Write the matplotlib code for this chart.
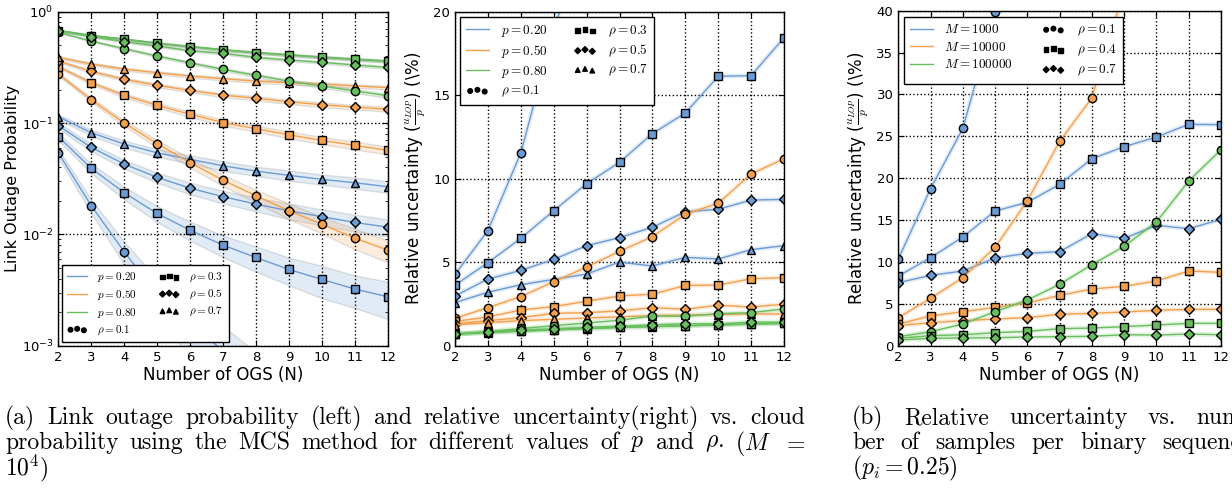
import numpy as np
import matplotlib
matplotlib.use('Agg')
import matplotlib.pyplot as plt
from matplotlib.lines import Line2D

# number of ground stations
N = [2, 3, 4, 5, 6, 7, 8, 9, 10, 11, 12]

# link outage probability, M = 1e4 (p = cloud probability, rho = correlation)
lop_p20_r01 = [0.054, 0.0181, 0.00698, 0.0029, 0.0016, 0.0009, 0.00045, 0.00025, 0.00014, 0.00008, 0.00005]
lop_p20_r03 = [0.0753, 0.0392, 0.0237, 0.0154, 0.0109, 0.0080, 0.0062, 0.00484, 0.00394, 0.00323, 0.00275]
lop_p20_r05 = [0.0946, 0.0605, 0.0428, 0.0325, 0.0260, 0.0218, 0.0187, 0.0163, 0.0144, 0.0128, 0.0116]
lop_p20_r07 = [0.114, 0.0818, 0.0648, 0.054, 0.0472, 0.0413, 0.037, 0.0339, 0.0312, 0.0291, 0.0268]
lop_p50_r01 = [0.275, 0.162, 0.100, 0.0653, 0.044, 0.0307, 0.0222, 0.0163, 0.0123, 0.00927, 0.00723]
lop_p50_r03 = [0.321, 0.230, 0.177, 0.144, 0.120, 0.101, 0.0889, 0.0785, 0.0698, 0.063, 0.0568]
lop_p50_r05 = [0.36, 0.291, 0.247, 0.218, 0.196, 0.178, 0.167, 0.155, 0.146, 0.139, 0.133]
lop_p50_r07 = [0.389, 0.339, 0.305, 0.283, 0.264, 0.25, 0.238, 0.23, 0.224, 0.215, 0.208]
lop_p80_r01 = [0.653, 0.545, 0.466, 0.4, 0.348, 0.303, 0.268, 0.238, 0.215, 0.194, 0.176]
lop_p80_r03 = [0.676, 0.61, 0.565, 0.52, 0.485, 0.453, 0.428, 0.408, 0.389, 0.373, 0.358]
lop_p80_r05 = [0.676, 0.597, 0.538, 0.492, 0.447, 0.423, 0.389, 0.368, 0.351, 0.332, 0.316]
lop_p80_r07 = [0.68, 0.612, 0.567, 0.522, 0.487, 0.455, 0.43, 0.41, 0.391, 0.375, 0.36]

# relative uncertainty of the LOP estimate (%)
rel_p20_r01 = [4.27, 6.89, 11.54, 18.9, 25, 33, 47, 63, 84, 110, 140]
rel_p20_r03 = [3.63, 4.97, 6.43, 8.08, 9.7, 10.98, 12.7, 13.93, 16.13, 16.17, 18.44]
rel_p20_r05 = [2.98, 3.99, 4.51, 5.17, 5.99, 6.47, 7.09, 8.02, 8.17, 8.72, 8.76]
rel_p20_r07 = [2.58, 3.2, 3.65, 3.97, 4.29, 5.01, 4.77, 5.29, 5.19, 5.75, 5.99]
rel_p50_r01 = [1.64, 2.28, 2.94, 3.83, 4.71, 5.65, 6.53, 7.87, 8.53, 10.28, 11.2]
rel_p50_r03 = [1.45, 1.72, 2.14, 2.34, 2.66, 2.98, 3.08, 3.61, 3.63, 4.01, 4.07]
rel_p50_r05 = [1.3, 1.5, 1.68, 1.94, 1.98, 2.08, 2.28, 2.18, 2.42, 2.32, 2.48]
rel_p50_r07 = [1.25, 1.38, 1.5, 1.58, 1.66, 1.73, 1.8, 1.84, 1.86, 1.9, 1.9]
rel_p80_r01 = [0.7, 0.84, 1.03, 1.2, 1.36, 1.52, 1.78, 1.76, 1.92, 1.98, 2.2]
rel_p80_r03 = [0.69, 0.8, 0.88, 0.96, 1.03, 1.1, 1.15, 1.2, 1.25, 1.3, 1.34]
rel_p80_r05 = [0.7, 0.82, 0.93, 1.0, 1.1, 1.17, 1.25, 1.32, 1.3, 1.42, 1.4]
rel_p80_r07 = [0.69, 0.79, 0.87, 0.95, 1.02, 1.09, 1.14, 1.19, 1.24, 1.29, 1.33]

# relative uncertainty (%) vs samples per binary sequence, p_i = 0.25
rel_m1k_r01 = [10.35, 18.75, 25.95, 39.8, 55, 70, 90, 110, 135, 160, 190]
rel_m1k_r04 = [8.32, 10.51, 12.98, 16.08, 17.12, 19.27, 22.33, 23.76, 24.92, 26.43, 26.39]
rel_m1k_r07 = [7.52, 8.4, 8.92, 10.47, 11.03, 11.23, 13.38, 12.82, 14.37, 13.97, 15.09]
rel_m10k_r01 = [3.35, 5.66, 8.12, 11.75, 17.3, 24.4, 29.6, 42.5, 55, 70, 90]
rel_m10k_r04 = [2.59, 3.55, 4.06, 4.58, 5.1, 6.01, 6.77, 7.09, 7.73, 8.92, 8.76]
rel_m10k_r07 = [2.39, 2.75, 2.99, 3.19, 3.35, 3.75, 3.87, 4.02, 4.22, 4.34, 4.34]
rel_m100k_r01 = [1.08, 1.67, 2.59, 4.06, 5.46, 7.33, 9.67, 11.87, 14.77, 19.67, 23.4]
rel_m100k_r04 = [0.88, 1.2, 1.31, 1.55, 1.71, 2.03, 2.11, 2.27, 2.47, 2.67, 2.67]
rel_m100k_r07 = [0.68, 0.88, 0.92, 0.96, 1.04, 1.08, 1.12, 1.31, 1.27, 1.39, 1.31]

p_labels = ['$p=0.20$', '$p=0.50$', '$p=0.80$']
rho_labels = [r'$\rho=0.1$', r'$\rho=0.3$', r'$\rho=0.5$', r'$\rho=0.7$']
m_labels = ['$M=1000$', '$M=10000$', '$M=100000$']
rho_labels_b = [r'$\rho=0.1$', r'$\rho=0.4$', r'$\rho=0.7$']

colors = ['#6a9bd4', '#f5a04c', '#66bf5c']
markers = ['o', 's', 'D', '^']
msizes = [6, 6, 5.2, 6]

lop = [[lop_p20_r01, lop_p20_r03, lop_p20_r05, lop_p20_r07],
       [lop_p50_r01, lop_p50_r03, lop_p50_r05, lop_p50_r07],
       [lop_p80_r07, lop_p80_r01, lop_p80_r03, lop_p80_r05]]
rel = [[rel_p20_r01, rel_p20_r03, rel_p20_r05, rel_p20_r07],
       [rel_p50_r01, rel_p50_r03, rel_p50_r05, rel_p50_r07],
       [rel_p80_r07, rel_p80_r01, rel_p80_r03, rel_p80_r05]]
mk_order = [[0, 1, 2, 3], [0, 1, 2, 3], [3, 0, 1, 2]]
relb = [[rel_m1k_r01, rel_m1k_r04, rel_m1k_r07],
        [rel_m10k_r01, rel_m10k_r04, rel_m10k_r07],
        [rel_m100k_r01, rel_m100k_r04, rel_m100k_r07]]

plt.rcParams.update({
    'font.family': 'DejaVu Sans',
    'mathtext.fontset': 'dejavusans',
    'xtick.direction': 'in', 'ytick.direction': 'in',
    'xtick.top': True, 'ytick.right': True,
    'xtick.minor.top': True, 'ytick.minor.right': True,
    'xtick.labelsize': 9.5, 'ytick.labelsize': 9.5,
    'xtick.major.size': 4, 'ytick.major.size': 4,
    'ytick.minor.size': 2,
    'axes.linewidth': 1.0,
    'legend.fancybox': False, 'legend.edgecolor': 'k',
    'legend.framealpha': 1, 'legend.shadow': False,
})

W, H = 1232, 500
fig = plt.figure(figsize=(W / 100, H / 100), dpi=100)


def px_axes(x0, x1, y0, y1):
    return fig.add_axes([x0 / W, 1 - y1 / H, (x1 - x0) / W, (y1 - y0) / H])


ax1 = px_axes(58.3, 387.7, 11.7, 345.7)
ax2 = px_axes(455, 784, 11.7, 345.7)
ax3 = px_axes(898.3, 1221, 10.7, 345.7)

Na = np.array(N)

# left: outage probability with 2-sigma band
for i, c in enumerate(colors):
    for j, k in enumerate(mk_order[i]):
        y = np.array(lop[i][j])
        r = np.array(rel[i][j]) / 100
        lo = np.clip(y * (1 - 2 * r), 1e-6, None)
        ax1.fill_between(Na, lo, y * (1 + 2 * r), facecolor=c, edgecolor='0.45',
                         alpha=0.2, lw=1)
        ax1.plot(Na, y, color=c, lw=1, marker=markers[k], ms=msizes[k],
                 mfc=c, mec='k', mew=1)
ax1.set_yscale('log')
ax1.set_ylim(1e-3, 1)
ax1.set_ylabel('Link Outage Probability', fontsize=11.5, labelpad=1)

# middle: relative uncertainty
for i, c in enumerate(colors):
    for j, k in enumerate(mk_order[i]):
        y = rel[i][j]
        ax2.plot(Na, y, color=c, lw=3.5, alpha=0.18, solid_capstyle='round')
        ax2.plot(Na, y, color=c, lw=1, marker=markers[k], ms=msizes[k],
                 mfc=c, mec='k', mew=1)
ax2.set_ylim(0, 20)
ax2.set_yticks([0, 5, 10, 15, 20])

# right: relative uncertainty vs M
mk_b = ['o', 's', 'D']
ms_b = [6, 6, 5.2]
for i, c in enumerate(colors):
    for j in range(3):
        y = relb[i][j]
        ax3.plot(Na, y, color=c, lw=3.5, alpha=0.18, solid_capstyle='round')
        ax3.plot(Na, y, color=c, lw=1, marker=mk_b[j], ms=ms_b[j],
                 mfc=c, mec='k', mew=1)
ax3.set_ylim(0, 40)
ax3.set_yticks(range(0, 41, 5))

ulabel = r'Relative uncertainty ($\frac{u_{LOP}}{p}$) (\%)'
for ax in (ax1, ax2, ax3):
    ax.set_xlim(2, 12)
    ax.set_xticks(N)
    ax.grid(True, color='k', ls=':', lw=1)
    ax.set_xlabel('Number of OGS (N)', fontsize=12, labelpad=2)
for ax in (ax2, ax3):
    lab = ax.set_ylabel(ulabel, fontsize=12, labelpad=4)
    lab.set_math_fontfamily('cm')


def legend_handles(ax, line_labels, mk, mk_labels):
    hs = [Line2D([], [], color=c, lw=1, label=l) for c, l in zip(colors, line_labels)]
    for m, l in zip(mk, mk_labels):
        hs.append(ax.scatter([], [], marker=m, c='k', s=11 if m != 'D' else 9, label=l))
    return hs


h1 = legend_handles(ax1, p_labels, markers, rho_labels)
leg1 = ax1.legend(handles=h1, loc='lower left', ncol=2, fontsize=8, scatterpoints=3,
                  borderaxespad=0.35, labelspacing=0.35, handlelength=1.8,
                  columnspacing=2.0, handletextpad=0.9, borderpad=0.45)
h2 = legend_handles(ax2, p_labels, markers, rho_labels)
leg2 = ax2.legend(handles=h2, loc='upper left', ncol=2, fontsize=9.5, scatterpoints=3,
                  borderaxespad=0.4, labelspacing=0.3, handlelength=1.7,
                  columnspacing=2.0, handletextpad=0.9, borderpad=0.45)
h3 = legend_handles(ax3, m_labels, mk_b, rho_labels_b)
leg3 = ax3.legend(handles=h3, loc='upper left', ncol=2, fontsize=9.5, scatterpoints=3,
                  borderaxespad=0.45, labelspacing=0.35, handlelength=1.7,
                  columnspacing=2.2, handletextpad=0.9, borderpad=0.45)
for leg in (leg1, leg2, leg3):
    leg.get_frame().set_linewidth(1.0)
    for t in leg.get_texts():
        t.set_math_fontfamily('cm')

# captions, justified word by word
cap_kw = dict(fontsize=17, family='cmr10', math_fontfamily='cm', va='center')
renderer = fig.canvas.get_renderer()


def caption_line(words, x0, y, x1=None):
    texts = [fig.text(0, 1 - y / H, w, **cap_kw) for w in words]
    widths = [t.get_window_extent(renderer).width for t in texts]
    if x1 is None or len(words) == 1:
        gap = 5.0
    else:
        gap = (x1 - x0 - sum(widths)) / (len(words) - 1)
    x = x0
    for t, w in zip(texts, widths):
        t.set_x(x / W)
        x += w + gap


caption_line('(a) Link outage probability (left) and relative uncertainty(right) vs. cloud'.split(),
             5, 418, 805)
caption_line(['probability', 'using', 'the', 'MCS', 'method', 'for', 'different', 'values',
              'of', '$p$', 'and', r'$\rho$.', '($M$', '$=$'], 5, 443, 805)
caption_line(['$10^4$)'], 5, 468)
caption_line(['(b)', 'Relative', 'uncertainty', 'vs.', 'num-'], 852, 418, 1250)
caption_line('ber of samples per binary sequence'.split(), 852, 443, 1252)
caption_line(['($p_i = 0.25$)'], 852, 468)

fig.savefig('out.png', dpi=100)
